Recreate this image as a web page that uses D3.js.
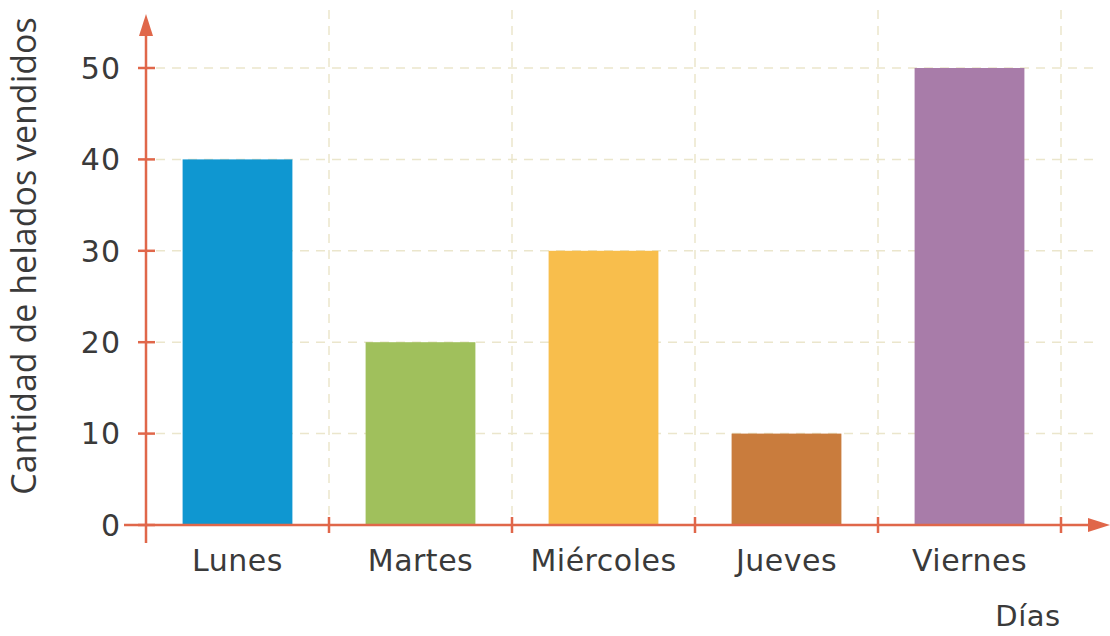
<!DOCTYPE html>
<html><head><meta charset="utf-8">
<script src="https://cdn.jsdelivr.net/npm/d3@7/dist/d3.min.js"></script>
<style>body{margin:0;background:#fff}</style>
</head><body>
<svg id="c" width="1110" height="636"></svg>
<script>
const categories = ["Lunes","Martes","Miércoles","Jueves","Viernes"];
const values = [40,20,30,10,50];
const colors = ["#0f97d1","#a0c05c","#f8be4c","#c97c3d","#a87ca9"];
const yTicks = [0,10,20,30,40,50];
const yTitle = "Cantidad de helados vendidos";
const xTitle = "Días";

const svg = d3.select("#c");
const x0 = 146, yBase = 525;
const x = d3.scaleBand().domain(categories).range([x0, x0 + 183*5]).paddingInner(0.4).paddingOuter(0.2);
const y = d3.scaleLinear().domain([0,50]).range([yBase, 68]);
const axisColor = "#e0674a", gridColor = "#ebe6cc";

// grid horizontal
svg.append("g").selectAll("line").data(yTicks.slice(1)).join("line")
  .attr("x1", x0+10).attr("x2", 1100).attr("y1", d=>y(d)).attr("y2", d=>y(d))
  .attr("stroke", gridColor).attr("stroke-width", 1.5).attr("stroke-dasharray","9,7");
// grid vertical at band boundaries
const bounds = categories.map((c,i)=>x0 + 183*(i+1));
svg.append("g").selectAll("line").data(bounds).join("line")
  .attr("x1", d=>d).attr("x2", d=>d).attr("y1", 10).attr("y2", yBase)
  .attr("stroke", gridColor).attr("stroke-width", 1.5).attr("stroke-dasharray","9,7");

// bars
svg.append("g").selectAll("rect").data(values).join("rect")
  .attr("x", (d,i)=>x(categories[i])).attr("width", x.bandwidth())
  .attr("y", d=>y(d)).attr("height", d=>yBase - y(d))
  .attr("fill", (d,i)=>colors[i]);

// axes
svg.append("line").attr("x1", x0).attr("x2", x0).attr("y1", 543).attr("y2", 30)
  .attr("stroke", axisColor).attr("stroke-width", 2.5);
svg.append("path").attr("d", `M${x0},14 L${x0-7},36 L${x0+7},36 Z`).attr("fill", axisColor);
svg.append("line").attr("x1", 124).attr("x2", 1092).attr("y1", yBase).attr("y2", yBase)
  .attr("stroke", axisColor).attr("stroke-width", 2.5);
svg.append("path").attr("d", `M1110,${yBase} L1088,${yBase-7} L1088,${yBase+7} Z`).attr("fill", axisColor);

// y ticks
svg.append("g").selectAll("line").data(yTicks).join("line")
  .attr("x1", x0-8).attr("x2", x0+9).attr("y1", d=>y(d)).attr("y2", d=>y(d))
  .attr("stroke", axisColor).attr("stroke-width", 2.5);
svg.append("g").selectAll("text").data(yTicks).join("text")
  .attr("x", 121).attr("y", d=>y(d)).attr("dy", "0.36em").attr("text-anchor","end")
  .attr("font-family","DejaVu Sans, Verdana, sans-serif").attr("font-size", 30).attr("fill","#3a3a3a")
  .attr("letter-spacing", 1).text(d=>d);
// x ticks
svg.append("g").selectAll("line").data(bounds).join("line")
  .attr("x1", d=>d).attr("x2", d=>d).attr("y1", yBase-8).attr("y2", yBase+8)
  .attr("stroke", axisColor).attr("stroke-width", 2.5);
// x labels
svg.append("g").selectAll("text").data(categories).join("text")
  .attr("x", d=>x(d)+x.bandwidth()/2).attr("y", 571).attr("text-anchor","middle")
  .attr("font-family","DejaVu Sans, Verdana, sans-serif").attr("font-size", 30).attr("fill","#3a3a3a")
  .attr("letter-spacing", 0.5).text(d=>d);
// titles
svg.append("text").attr("transform","translate(36,256) rotate(-90)").attr("text-anchor","middle")
  .attr("font-family","Open Sans, sans-serif").attr("font-size", 34).attr("fill","#3a3a3a").text(yTitle);
svg.append("text").attr("x", 1028).attr("y", 626).attr("text-anchor","middle")
  .attr("font-family","DejaVu Sans, Verdana, sans-serif").attr("font-size", 29).attr("fill","#3a3a3a")
  .attr("letter-spacing", 0.5).text(xTitle);
</script>
</body></html>
